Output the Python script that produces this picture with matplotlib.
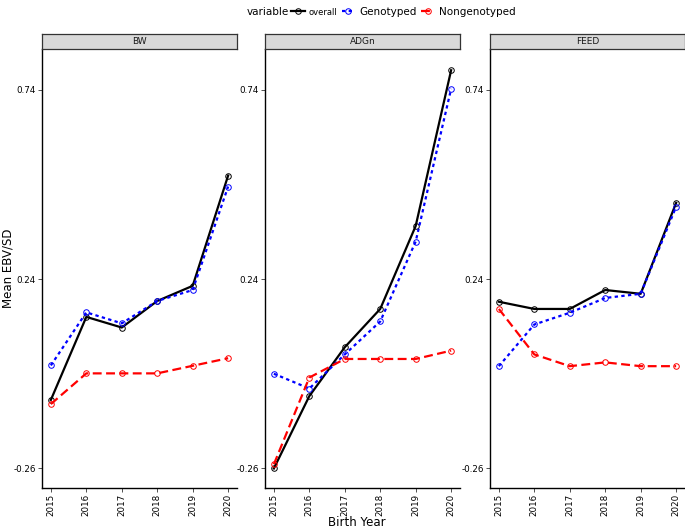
import matplotlib
matplotlib.use("Agg")
from matplotlib import pyplot as plt
from matplotlib.lines import Line2D

# data
years = [2015, 2016, 2017, 2018, 2019, 2020]
traits = ["BW", "ADGn", "FEED"]

bw_overall = [-0.079, 0.140, 0.112, 0.182, 0.222, 0.513]
bw_geno = [0.012, 0.152, 0.123, 0.182, 0.211, 0.484]
bw_nongeno = [-0.090, -0.009, -0.009, -0.009, 0.011, 0.031]

adg_overall = [-0.260, -0.069, 0.060, 0.161, 0.380, 0.791]
adg_geno = [-0.010, -0.049, 0.041, 0.128, 0.339, 0.742]
adg_nongeno = [-0.249, -0.020, 0.029, 0.029, 0.029, 0.051]

feed_overall = [0.180, 0.161, 0.161, 0.211, 0.201, 0.441]
feed_geno = [0.010, 0.120, 0.151, 0.190, 0.201, 0.431]
feed_nongeno = [0.161, 0.041, 0.010, 0.020, 0.010, 0.010]

y_ticks = [-0.26, 0.24, 0.74]
series_names = ["overall", "Genotyped", "Nongenotyped"]

panel_data = {
    "BW": [bw_overall, bw_geno, bw_nongeno],
    "ADGn": [adg_overall, adg_geno, adg_nongeno],
    "FEED": [feed_overall, feed_geno, feed_nongeno],
}

styles = [
    dict(color="black", linestyle="-"),
    dict(color="blue", linestyle=(0, (1.5, 1.5))),
    dict(color="red", linestyle=(0, (4, 2))),
]

W, H = 685, 530
fig = plt.figure(figsize=(W / 100, H / 100), dpi=100)

panel_left = [42, 265, 490]
panel_w = 195
top_px, bot_px = 49, 488
strip_h = 14.5

for i, trait in enumerate(traits):
    x0 = panel_left[i] / W
    ax = fig.add_axes([x0, 1 - bot_px / H, panel_w / W, (bot_px - top_px) / H])
    for vals, st in zip(panel_data[trait], styles):
        ax.plot(years, vals, lw=1.6, marker="o", markersize=4,
                markerfacecolor="none", markeredgewidth=0.7, **st)
    ax.set_xlim(2014.75, 2020.25)
    ax.set_ylim(-0.3115, 0.847)
    ax.set_xticks(years)
    ax.set_xticklabels([str(y) for y in years], rotation=90, fontsize=6.3)
    ax.set_yticks(y_ticks)
    ax.set_yticklabels([f"{v:.2f}" for v in y_ticks], fontsize=6.3)
    ax.tick_params(length=3, width=0.6, color="#333333", pad=1.5)
    for s in ["top", "right"]:
        ax.spines[s].set_visible(False)
    for s in ["left", "bottom"]:
        ax.spines[s].set_linewidth(1.0)

    # facet strip
    sax = fig.add_axes([x0, 1 - top_px / H, panel_w / W, strip_h / H])
    sax.set_xticks([])
    sax.set_yticks([])
    sax.set_facecolor("#d9d9d9")
    for s in sax.spines.values():
        s.set_color("#333333")
        s.set_linewidth(0.9)
    sax.text(0.5, 0.5, trait, ha="center", va="center", fontsize=6.5,
             color="#1a1a1a", transform=sax.transAxes)

fig.text(8 / W, 1 - 268 / H, "Mean EBV/SD", rotation=90, ha="center",
         va="center", fontsize=8.5)
fig.text(357 / W, 1 - 522 / H, "Birth Year", ha="center", va="center",
         fontsize=8.5)

# legend on top
fig.text(268 / W, 1 - 12 / H, "variable", ha="center", va="center", fontsize=7.5)
handles = [Line2D([0], [0], lw=1.6, marker="o", markersize=4,
                  markerfacecolor="none", markeredgewidth=0.7, **st)
           for st in styles]
leg = fig.legend(handles, series_names, loc="center left",
                 bbox_to_anchor=(291 / W, 1 - 12 / H),
                 ncol=3, frameon=False, fontsize=7.5, handlelength=1.3,
                 handletextpad=0.4, columnspacing=0.4, borderpad=0,
                 borderaxespad=0)
leg.get_texts()[0].set_fontsize(6)

fig.savefig("out.png", dpi=100)
